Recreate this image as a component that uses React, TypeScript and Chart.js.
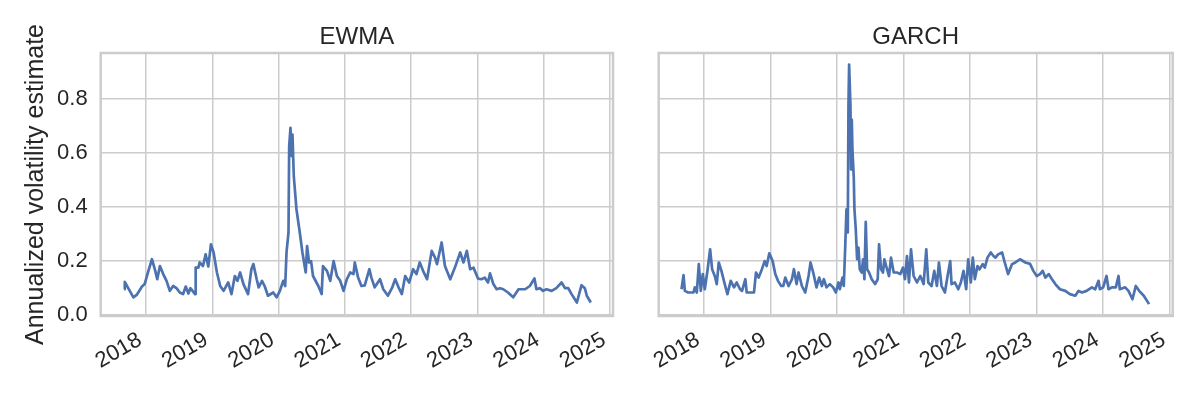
import React, { useEffect, useRef } from "react";
import { Chart, registerables } from "chart.js";

Chart.register(...registerables);

const YEAR_TICKS = [2018, 2019, 2020, 2021, 2022, 2023, 2024, 2025];
const Y_TICKS = [0, 0.2, 0.4, 0.6, 0.8];
const X_MIN = 2017.317;
const X_MAX = 2025.045;
const Y_MIN = -0.003;
const Y_MAX = 0.97;

// EWMA series (fractional year, annualized volatility)
const EWMA_T = [
  2017.67, 2017.68, 2017.81, 2017.86, 2017.94, 2017.98, 2018.03, 2018.09, 2018.14, 2018.17,
  2018.21, 2018.26, 2018.31, 2018.36, 2018.41, 2018.46, 2018.51, 2018.56, 2018.60, 2018.64,
  2018.67, 2018.74, 2018.75, 2018.79, 2018.81, 2018.86, 2018.90, 2018.94, 2018.98, 2019.02,
  2019.07, 2019.12, 2019.17, 2019.24, 2019.29, 2019.34, 2019.38, 2019.42, 2019.47, 2019.54,
  2019.59, 2019.62, 2019.67, 2019.70, 2019.75, 2019.79, 2019.84, 2019.92, 2019.97, 2020.02,
  2020.07, 2020.10, 2020.12, 2020.15, 2020.16, 2020.18, 2020.20, 2020.21, 2020.23, 2020.27,
  2020.32, 2020.36, 2020.41, 2020.43, 2020.46, 2020.49, 2020.52, 2020.60, 2020.65, 2020.67,
  2020.73, 2020.78, 2020.83, 2020.88, 2020.93, 2020.98, 2021.03, 2021.08, 2021.13, 2021.15,
  2021.20, 2021.25, 2021.30, 2021.37, 2021.40, 2021.45, 2021.53, 2021.58, 2021.65, 2021.71,
  2021.76, 2021.81, 2021.86, 2021.91, 2021.97, 2022.03, 2022.08, 2022.13, 2022.18, 2022.24,
  2022.31, 2022.36, 2022.39, 2022.46, 2022.51, 2022.59, 2022.66, 2022.74, 2022.79, 2022.84,
  2022.89, 2022.94, 2023.01, 2023.06, 2023.11, 2023.16, 2023.19, 2023.24, 2023.29, 2023.34,
  2023.39, 2023.46, 2023.54, 2023.62, 2023.67, 2023.72, 2023.79, 2023.86, 2023.89, 2023.94,
  2023.99, 2024.04, 2024.12, 2024.19, 2024.27, 2024.32, 2024.37, 2024.42, 2024.50, 2024.57,
  2024.62, 2024.65, 2024.71,
];
const EWMA_V = [
  0.096, 0.123, 0.066, 0.075, 0.106, 0.115, 0.158, 0.207, 0.164, 0.133,
  0.182, 0.152, 0.127, 0.090, 0.108, 0.100, 0.084, 0.078, 0.106, 0.080,
  0.100, 0.078, 0.176, 0.176, 0.195, 0.182, 0.225, 0.180, 0.262, 0.232,
  0.158, 0.108, 0.090, 0.121, 0.078, 0.145, 0.127, 0.158, 0.115, 0.078,
  0.170, 0.189, 0.133, 0.103, 0.127, 0.108, 0.072, 0.084, 0.066, 0.090,
  0.127, 0.108, 0.232, 0.306, 0.625, 0.693, 0.588, 0.668, 0.514, 0.392,
  0.306, 0.232, 0.158, 0.256, 0.195, 0.200, 0.145, 0.108, 0.078, 0.182,
  0.164, 0.127, 0.200, 0.145, 0.127, 0.090, 0.133, 0.158, 0.152, 0.195,
  0.139, 0.108, 0.110, 0.170, 0.139, 0.103, 0.133, 0.096, 0.072, 0.100,
  0.133, 0.103, 0.078, 0.145, 0.121, 0.170, 0.152, 0.195, 0.164, 0.133,
  0.238, 0.213, 0.189, 0.269, 0.182, 0.133, 0.176, 0.232, 0.195, 0.238,
  0.170, 0.176, 0.135, 0.133, 0.139, 0.121, 0.155, 0.115, 0.096, 0.100,
  0.096, 0.084, 0.066, 0.096, 0.096, 0.096, 0.108, 0.136, 0.096, 0.100,
  0.090, 0.096, 0.090, 0.100, 0.121, 0.100, 0.100, 0.078, 0.047, 0.111,
  0.100, 0.072, 0.047,
];

// GARCH series (fractional year, annualized volatility)
const GARCH_T = [
  2017.66, 2017.69, 2017.71, 2017.76, 2017.84, 2017.86, 2017.89, 2017.92, 2017.95, 2017.98,
  2018.01, 2018.05, 2018.09, 2018.12, 2018.16, 2018.19, 2018.22, 2018.26, 2018.31, 2018.35,
  2018.40, 2018.45, 2018.49, 2018.54, 2018.57, 2018.62, 2018.64, 2018.69, 2018.75, 2018.78,
  2018.82, 2018.86, 2018.91, 2018.94, 2018.98, 2019.03, 2019.07, 2019.11, 2019.16, 2019.19,
  2019.22, 2019.27, 2019.32, 2019.35, 2019.39, 2019.42, 2019.47, 2019.52, 2019.57, 2019.60,
  2019.64, 2019.69, 2019.73, 2019.77, 2019.80, 2019.84, 2019.89, 2019.94, 2019.98, 2020.02,
  2020.04, 2020.08, 2020.10, 2020.12, 2020.14, 2020.16, 2020.17, 2020.18, 2020.20, 2020.21,
  2020.22, 2020.23, 2020.25, 2020.26, 2020.28, 2020.30, 2020.32, 2020.34, 2020.37, 2020.39,
  2020.41, 2020.43, 2020.45, 2020.48, 2020.52, 2020.57, 2020.61, 2020.63, 2020.66, 2020.69,
  2020.71, 2020.75, 2020.78, 2020.81, 2020.85, 2020.90, 2020.95, 2020.99, 2021.02, 2021.05,
  2021.08, 2021.11, 2021.15, 2021.20, 2021.25, 2021.30, 2021.34, 2021.37, 2021.42, 2021.46,
  2021.50, 2021.53, 2021.57, 2021.62, 2021.66, 2021.70, 2021.72, 2021.77, 2021.82, 2021.86,
  2021.90, 2021.94, 2021.97, 2022.01, 2022.04, 2022.07, 2022.11, 2022.14, 2022.19, 2022.22,
  2022.26, 2022.31, 2022.35, 2022.38, 2022.42, 2022.48, 2022.52, 2022.57, 2022.63, 2022.68,
  2022.75, 2022.83, 2022.90, 2022.95, 2023.00, 2023.05, 2023.09, 2023.13, 2023.18, 2023.23,
  2023.28, 2023.35, 2023.43, 2023.50, 2023.58, 2023.63, 2023.68, 2023.75, 2023.83, 2023.88,
  2023.93, 2023.95, 2024.00, 2024.05, 2024.08, 2024.13, 2024.19, 2024.23, 2024.25, 2024.33,
  2024.38, 2024.44, 2024.49, 2024.54, 2024.61, 2024.69,
];
const GARCH_V = [
  0.096, 0.148, 0.090, 0.084, 0.084, 0.103, 0.084, 0.189, 0.090, 0.152,
  0.096, 0.164, 0.244, 0.170, 0.145, 0.115, 0.195, 0.164, 0.115, 0.078,
  0.127, 0.103, 0.121, 0.096, 0.090, 0.133, 0.084, 0.084, 0.084, 0.158,
  0.139, 0.164, 0.200, 0.182, 0.229, 0.200, 0.152, 0.127, 0.108, 0.108,
  0.139, 0.108, 0.133, 0.170, 0.115, 0.158, 0.108, 0.084, 0.145, 0.195,
  0.158, 0.103, 0.139, 0.108, 0.133, 0.103, 0.115, 0.103, 0.084, 0.121,
  0.096, 0.139, 0.108, 0.244, 0.392, 0.306, 0.773, 0.927, 0.773, 0.539,
  0.724, 0.613, 0.508, 0.392, 0.318, 0.207, 0.250, 0.170, 0.158, 0.207,
  0.133, 0.345, 0.170, 0.158, 0.133, 0.115, 0.133, 0.262, 0.170, 0.158,
  0.207, 0.170, 0.145, 0.213, 0.158, 0.158, 0.152, 0.176, 0.133, 0.219,
  0.121, 0.244, 0.145, 0.121, 0.145, 0.115, 0.244, 0.121, 0.108, 0.164,
  0.108, 0.195, 0.108, 0.084, 0.145, 0.200, 0.115, 0.121, 0.096, 0.121,
  0.164, 0.096, 0.207, 0.121, 0.213, 0.133, 0.182, 0.170, 0.189, 0.176,
  0.213, 0.232, 0.219, 0.213, 0.225, 0.232, 0.195, 0.152, 0.189, 0.195,
  0.207, 0.195, 0.190, 0.164, 0.145, 0.152, 0.164, 0.139, 0.152, 0.133,
  0.115, 0.096, 0.090, 0.078, 0.072, 0.090, 0.084, 0.090, 0.103, 0.096,
  0.127, 0.096, 0.103, 0.145, 0.096, 0.103, 0.103, 0.145, 0.096, 0.103,
  0.090, 0.059, 0.108, 0.090, 0.072, 0.041,
];

const FONT = "'Liberation Sans', Arial, Helvetica, sans-serif";
const TEXT = "#262626";
const GRID = "#cccccc";
const LINE = "#4c72b0";

const framePlugin = {
  id: "frame",
  afterDatasetsDraw(chart: any) {
    const { ctx, chartArea } = chart;
    const { left, top, right, bottom } = chartArea;
    ctx.save();
    ctx.strokeStyle = GRID;
    ctx.lineWidth = 2.5;
    ctx.strokeRect(left, top, right - left, bottom - top);
    ctx.restore();
  },
};

function makeConfig(title: string, ts: number[], vs: number[], showY: boolean, yWidth: number, padRight: number) {
  const pts = ts.map((t, i) => ({ x: t, y: vs[i] }));
  return {
    type: "line",
    data: {
      datasets: [
        {
          data: pts,
          borderColor: LINE,
          borderWidth: 2.7,
          pointRadius: 0,
          tension: 0,
          fill: false,
          borderJoinStyle: "round",
        },
      ],
    },
    options: {
      responsive: false,
      animation: false,
      devicePixelRatio: 1,
      layout: { padding: { left: 0, right: padRight, top: 0, bottom: 0 } },
      plugins: {
        legend: { display: false },
        tooltip: { enabled: false },
        title: {
          display: true,
          text: title,
          color: TEXT,
          fullSize: false,
          font: { family: FONT, size: 24, weight: "normal" },
          padding: { top: 22.6, bottom: 1.6 },
        },
      },
      scales: {
        x: {
          type: "linear",
          min: X_MIN,
          max: X_MAX,
          afterBuildTicks: (s: any) => {
            s.ticks = YEAR_TICKS.map((v) => ({ value: v }));
          },
          afterFit: (s: any) => {
            s.height = 84;
            s.paddingLeft = 0;
            s.paddingRight = 0;
          },
          border: { display: false },
          grid: { color: GRID, lineWidth: 1.5, drawTicks: false },
          ticks: {
            autoSkip: false,
            minRotation: 30,
            maxRotation: 30,
            padding: 11,
            labelOffset: -6,
            color: TEXT,
            font: { family: FONT, size: 22 },
            callback: (v: any) => String(v),
          },
        },
        y: {
          type: "linear",
          min: Y_MIN,
          max: Y_MAX,
          afterBuildTicks: (s: any) => {
            s.ticks = Y_TICKS.map((v) => ({ value: v }));
          },
          afterFit: (s: any) => {
            s.width = yWidth;
            s.paddingTop = 0;
            s.paddingBottom = 0;
          },
          border: { display: false },
          grid: { color: GRID, lineWidth: 1.5, drawTicks: false },
          title: {
            display: showY,
            text: "Annualized volatility estimate",
            color: TEXT,
            font: { family: FONT, size: 25 },
            padding: { top: 21, bottom: 0 },
          },
          ticks: {
            display: showY,
            padding: 13,
            color: TEXT,
            font: { family: FONT, size: 22 },
            callback: (v: any) => Number(v).toFixed(1),
          },
        },
      },
    },
    plugins: [framePlugin],
  };
}

export default function App() {
  const leftRef = useRef<HTMLCanvasElement>(null);
  const rightRef = useRef<HTMLCanvasElement>(null);

  useEffect(() => {
    const c1 = new Chart(leftRef.current as any, makeConfig("EWMA", EWMA_T, EWMA_V, true, 100.7, 17) as any);
    const c2 = new Chart(rightRef.current as any, makeConfig("GARCH", GARCH_T, GARCH_V, false, 28.7, 27.3) as any);
    return () => {
      c1.destroy();
      c2.destroy();
    };
  }, []);

  return (
    <div style={{ position: "absolute", left: 0, top: 0, width: 1200, height: 400, background: "#ffffff" }}>
      <canvas ref={leftRef} width={630} height={400} style={{ position: "absolute", left: 0, top: 0, width: 630, height: 400 }} />
      <canvas ref={rightRef} width={570} height={400} style={{ position: "absolute", left: 630, top: 0, width: 570, height: 400 }} />
    </div>
  );
}
